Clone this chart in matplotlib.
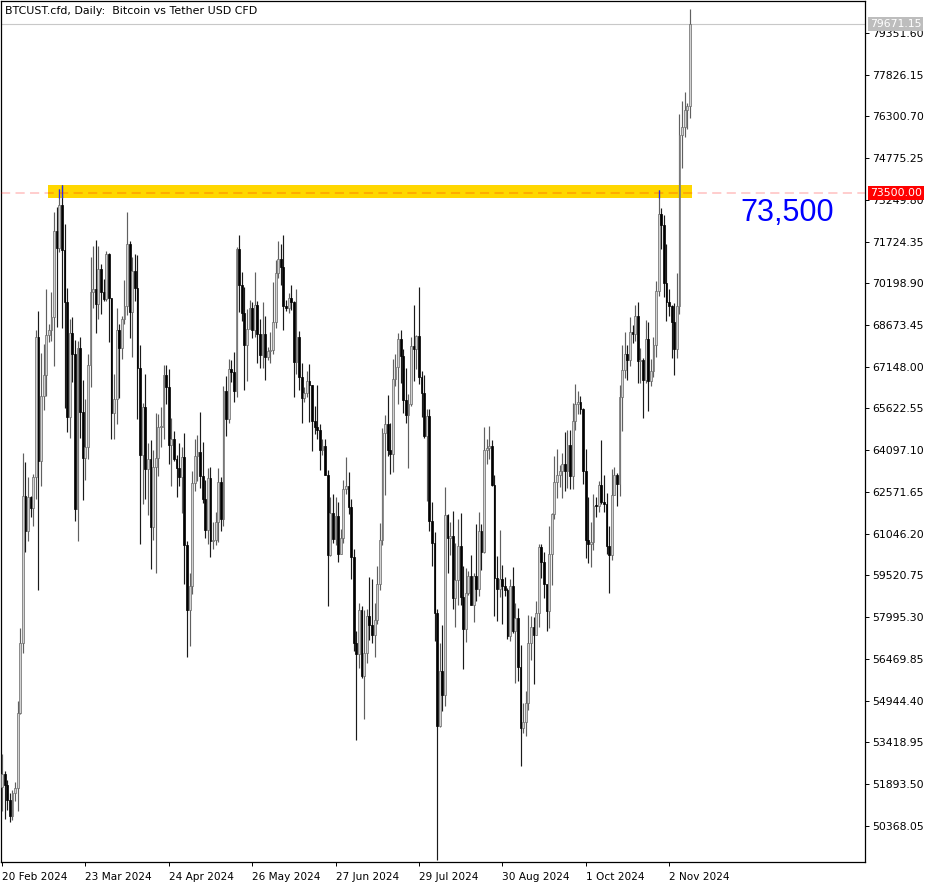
import matplotlib
matplotlib.use('Agg')
import matplotlib.pyplot as plt
import matplotlib.transforms as mtransforms
from matplotlib.collections import LineCollection, PolyCollection
from matplotlib.patches import Rectangle
import pandas as pd

# ---------------- data (BTCUST.cfd daily, 20 Feb 2024 .. 10 Nov 2024) ----------------
start_date = '2024-02-20'

open_ = [
    51780, 52260, 51840, 51300, 50730, 51570, 51730, 54480, 57040, 62430,
    61130, 62390, 61990, 63110, 68250, 63720, 66070, 66830, 68300, 68500, 68960, 72120, 71480, 73080, 71400,
    69500, 65300, 68390, 67610, 61940, 67840, 65500, 63800, 64220, 67210, 69880, 69990, 69450, 70740, 69890, 69640,
    71280, 69650, 65460, 65960, 68490, 67820, 68900, 69360, 71620, 69150, 70640, 70010, 67120, 63920, 65660,
    63420, 63790, 61280, 63470, 63820, 64940, 64940, 66840, 66410, 64280, 64500, 63770, 63460, 63120, 63840,
    60640, 58250, 59120, 62890, 63890, 64030, 63160, 62330, 61190, 63070, 60790, 60830, 61480, 62940, 61580,
    66270, 65230, 67050, 66940, 66280, 71450, 70140, 69120, 67930, 68530, 69290, 68510, 69390, 68340, 67590, 68350,
    67490, 67710, 67750, 68800, 70570, 71080, 70790, 69360, 69300, 69650, 69510, 67320, 68240, 66760, 66010,
    66190, 66640, 66490, 65150, 64960, 64830, 64090, 64240, 63180, 60280, 61800, 60860, 61680, 60320, 60900,
    62680, 62770, 62020, 60210, 57050, 56650, 58240, 55850, 56700, 58040, 57720, 57340, 57890, 59200, 60800,
    64720, 65040, 64090, 63970, 66710, 67150, 68170, 67550, 65930, 65370, 65780, 67900, 67810, 68260, 66780, 66190,
    64620, 65350, 61500, 60700, 58160, 54020, 56040, 55130, 61710, 60880, 60950, 58710, 59350, 60610, 58740,
    57560, 58870, 59480, 58440, 59490, 59010, 61160, 60380, 64090, 64180, 64250, 62830, 59420, 59030, 59370, 59120,
    58970, 57300, 59130, 57480, 57970, 56160, 53950, 54160, 54870, 57050, 57650, 57340, 58130, 60570, 60000,
    59190, 58210, 60310, 61760, 62950, 63200, 63350, 63580, 63330, 64300, 63140, 65180, 65770, 65870, 65600,
    63330, 60800, 60650, 60750, 62070, 62060, 62820, 62220, 62130, 60580, 60270, 62450, 63190, 62850, 66050,
    67040, 67610, 67400, 68420, 68360, 69000, 67370, 67380, 66680, 68160, 66640, 67010, 67940, 69910, 72720, 72340,
    70220, 69500, 69370, 68780, 67810, 69360, 75640, 75900, 76540, 76680,
]
high = [
    52990, 52370, 52040, 51550, 51680, 51950, 54940, 57580, 64000, 63680,
    63110, 62430, 63230, 68500, 69170, 67640, 67990, 69990, 68700, 69900, 72800, 73000, 73650, 73780, 72360,
    70040, 68900, 68950, 68120, 68100, 68240, 66650, 65970, 67620, 71150, 71560, 71770, 71550, 70920, 70360, 71370,
    71290, 69670, 66900, 69290, 68720, 69000, 70330, 72800, 71760, 71170, 71260, 71230, 67930, 65840, 66870,
    64360, 64480, 64120, 65450, 65420, 65690, 67230, 67200, 67080, 65290, 64800, 63920, 64360, 64230, 64730,
    60780, 59600, 63320, 64500, 64650, 65500, 64400, 62990, 63430, 63470, 61490, 61840, 63450, 63100, 66440,
    66800, 67450, 67400, 67700, 71520, 71980, 70630, 70080, 69250, 69580, 69500, 70600, 69560, 68900, 69500, 69000,
    67860, 68420, 70260, 71060, 71760, 71620, 71950, 69580, 69850, 70150, 69560, 69990, 68450, 67300, 66400,
    66980, 67240, 66490, 65730, 66480, 65070, 64520, 64490, 63370, 62400, 62480, 62370, 62200, 61200, 63000,
    63860, 63290, 62300, 60500, 57500, 58500, 58400, 58240, 58300, 59460, 59400, 58520, 59850, 61420, 64900,
    65380, 66130, 65110, 67450, 67600, 68370, 68480, 67800, 67100, 66170, 68230, 69400, 68300, 70080, 66980, 66830,
    65590, 65600, 62200, 61120, 58300, 57050, 57720, 62750, 61750, 61470, 61860, 60700, 61580, 61800, 59850,
    59800, 59690, 60280, 59620, 61400, 61830, 61400, 64950, 64520, 65000, 64480, 63200, 60230, 61170, 59900, 59450,
    59060, 59400, 59810, 58500, 58330, 56990, 54850, 55300, 58080, 58040, 57990, 58580, 60670, 60660, 60390,
    59210, 61320, 61790, 63870, 64130, 63560, 64000, 64750, 64830, 64820, 65840, 66500, 66260, 66080, 65630,
    64130, 62390, 61490, 62480, 62370, 62980, 64480, 63200, 62540, 61320, 63420, 63480, 63280, 66480, 67950,
    68420, 67940, 68970, 68690, 69400, 69500, 67830, 67470, 68840, 68780, 67450, 68220, 70270, 73620, 72960, 72700,
    71630, 70000, 69400, 69480, 70580, 76400, 76850, 77200, 76800, 80230,
]
low = [
    50900, 50630, 50930, 50520, 50580, 51280, 50900, 54440, 56690, 60360,
    60780, 61660, 61320, 62300, 59000, 62800, 65550, 66080, 68060, 68100, 67190, 68620, 71330, 68550, 65630,
    64780, 64530, 66600, 61500, 60760, 64530, 62260, 63000, 63790, 66390, 69280, 68380, 68900, 69080, 69560, 69560,
    68060, 64490, 64500, 65050, 66000, 67450, 68710, 69040, 68210, 67520, 69570, 65250, 60660, 62130, 62300,
    61710, 59770, 60830, 59600, 63170, 64230, 64500, 65800, 63590, 62790, 63700, 62400, 62800, 61800, 59190,
    56550, 56940, 58850, 62600, 62960, 62700, 62150, 60880, 60670, 60190, 60490, 60630, 60750, 61150, 61320,
    64600, 65110, 66600, 65860, 66060, 69160, 68830, 66300, 66620, 68520, 68190, 68230, 67290, 67120, 67100, 66670,
    67390, 67300, 67600, 68560, 70380, 70120, 68500, 69180, 69130, 69230, 66050, 66900, 66300, 65080, 65870,
    66060, 65120, 64060, 64690, 64510, 63380, 63940, 63180, 58400, 60230, 60700, 60640, 60000, 60300, 60700,
    62500, 61780, 59400, 56770, 53490, 56150, 55760, 54260, 56320, 57160, 57040, 56520, 57760, 59000, 60630,
    62450, 63880, 63230, 63300, 66460, 65780, 66570, 65440, 65100, 63430, 65730, 66640, 67060, 66500, 65300, 64530,
    62250, 61130, 59850, 57120, 49100, 53970, 54560, 54730, 59590, 60260, 58290, 57650, 58420, 58430, 56080,
    57100, 58790, 58440, 57800, 58600, 58780, 59720, 60340, 63580, 63770, 62800, 58030, 57860, 58740, 57750, 58750,
    57200, 57130, 57420, 55600, 55650, 52550, 53740, 53650, 54600, 56410, 55550, 57330, 57630, 59440, 58700,
    57500, 57610, 59170, 61580, 62350, 62760, 62360, 62600, 62730, 62690, 62670, 64830, 65420, 65430, 62860,
    60170, 59980, 59830, 60460, 61670, 61820, 62140, 61850, 60300, 58890, 60090, 62450, 62060, 62420, 64800,
    66750, 66660, 67160, 68010, 68100, 66570, 66570, 65260, 66560, 65520, 66440, 66760, 67520, 69730, 71440, 69690,
    68820, 69000, 67480, 66840, 67460, 69070, 74420, 75550, 75850, 76250,
]
close = [
    52260, 51840, 51300, 50730, 51570, 51730, 54480, 57040, 62430, 61130,
    62390, 61990, 63110, 68250, 63720, 66070, 66830, 68300, 68500, 68960, 72120, 71480, 73080, 71400, 69500,
    65300, 68390, 67610, 61940, 67840, 65500, 63800, 64220, 67210, 69880, 69990, 69450, 70740, 69890, 69640, 71280,
    69650, 65460, 65960, 68490, 67820, 68900, 69360, 71620, 69150, 70640, 70010, 67120, 63920, 65660, 63420,
    63790, 61280, 63470, 63820, 64940, 64940, 66840, 66410, 64280, 64500, 63770, 63460, 63120, 63840, 60640,
    58250, 59120, 62890, 63890, 64030, 63160, 62330, 61190, 63070, 60790, 60830, 61480, 62940, 61580, 66270,
    65230, 67050, 66940, 66280, 71450, 70140, 69120, 67930, 68530, 69290, 68510, 69390, 68340, 67590, 68350, 67490,
    67710, 67750, 68800, 70570, 71080, 70790, 69360, 69300, 69650, 69510, 67320, 68240, 66760, 66010, 66190,
    66640, 66490, 65150, 64960, 64830, 64090, 64240, 63180, 60280, 61800, 60860, 61680, 60320, 60900, 62680,
    62770, 62020, 60210, 57050, 56650, 58240, 55850, 56700, 58040, 57720, 57340, 57890, 59200, 60800, 64720,
    65040, 64090, 63970, 66710, 67150, 68170, 67550, 65930, 65370, 65780, 67900, 67810, 68260, 66780, 66190, 64620,
    65350, 61500, 60700, 58160, 54020, 56040, 55130, 61710, 60880, 60950, 58710, 59350, 60610, 58740, 57560,
    58870, 59480, 58440, 59490, 59010, 61160, 60380, 64090, 64180, 64250, 62830, 59420, 59030, 59370, 59120, 58970,
    57300, 59130, 57480, 57970, 56160, 53950, 54160, 54870, 57050, 57650, 57340, 58130, 60570, 60000, 59190,
    58210, 60310, 61760, 62950, 63200, 63350, 63580, 63330, 64300, 63140, 65180, 65770, 65870, 65600, 63330,
    60800, 60650, 60750, 62070, 62060, 62820, 62220, 62130, 60580, 60270, 62450, 63190, 62850, 66050, 67040,
    67610, 67400, 68420, 68360, 69000, 67370, 67380, 66680, 68160, 66640, 67010, 67940, 69910, 72720, 72340, 70220,
    69500, 69370, 68780, 67810, 69360, 75640, 75900, 76540, 76680, 79671.15,
]

title_text = 'BTCUST.cfd, Daily:  Bitcoin vs Tether USD CFD'
level_price = 73500.00
level_label = '73,500'
last_price = 79671.15
zone_low, zone_high = 73330, 73795
zone_start, zone_end = 17.6, 264.8          # in bar units
y_tick_start, y_tick_step, y_tick_count = 50368.05, 1525.45, 20
x_tick_every = 32
y_min, y_max = 49040, 80522
x_min, x_max = -0.38, 331.2

# ---------------- figure ----------------
W, H = 936, 888
fig = plt.figure(figsize=(W / 100, H / 100), dpi=100)
ax = fig.add_axes([1 / W, (H - 862) / H, 864 / W, 861 / H])
ax.set_xlim(x_min, x_max)
ax.set_ylim(y_min, y_max)

n = len(close)
dates = pd.date_range(start_date, periods=n, freq='D')

# yellow zone
ax.add_patch(Rectangle((zone_start, zone_low), zone_end - zone_start, zone_high - zone_low,
                       facecolor='#FFD700', edgecolor='none', zorder=1))

# candles
bw = 0.7
wick_segs, wick_cols, bodies, face, edge = [], [], [], [], []
blue_segs = []
for i in range(n):
    o, h, l, c = open_[i], high[i], low[i], close[i]
    bull = c >= o
    wick_segs.append([(i, l), (i, h)])
    wick_cols.append('#606060' if bull else '#1a1a1a')
    lo_b, hi_b = min(o, c), max(o, c)
    if hi_b - lo_b < 25:
        hi_b = lo_b + 25
    bodies.append([(i - bw / 2, lo_b), (i + bw / 2, lo_b), (i + bw / 2, hi_b), (i - bw / 2, hi_b)])
    face.append('#d2d2d2' if bull else '#000000')
    edge.append('#6a6a6a' if bull else '#000000')
    if max(o, c) < zone_low < h and zone_start <= i <= zone_end:
        blue_segs.append([(i, zone_low), (i, min(h, zone_high))])

ax.add_collection(LineCollection(wick_segs, colors=wick_cols, linewidths=0.85, zorder=3))
ax.add_collection(PolyCollection(bodies, facecolors=face, edgecolors=edge, linewidths=0.5, zorder=4))
ax.add_collection(LineCollection(blue_segs, colors='#1f2cff', linewidths=0.9, zorder=5))

# lines
ax.axhline(last_price, color='#c8c8c8', lw=0.8, zorder=2)
ax.axhline(level_price, color=(1, 0, 0, 0.25), lw=1.1, dashes=(6, 3.5), zorder=6)

# right-side price labels
btrans = mtransforms.blended_transform_factory(ax.transAxes, ax.transData)
ax.text(1 + 5 / 864, last_price, f'{last_price:.2f}', transform=btrans, ha='left', va='center',
        color='white', fontsize=7.8, zorder=10, clip_on=False,
        bbox=dict(boxstyle='square,pad=0.18', fc='#bdbdbd', ec='none'))
ax.text(1 + 5 / 864, level_price, f'{level_price:.2f}', transform=btrans, ha='left', va='center',
        color='white', fontsize=7.8, zorder=10, clip_on=False,
        bbox=dict(boxstyle='square,pad=0.18', fc='#ff0000', ec='none'))

# big level label
ax.text((787 - 1) / 864, 72770, level_label, transform=btrans, ha='center', va='center',
        color='#0000ff', fontsize=22, family='Liberation Sans', zorder=8)

# title
fig.text(5 / W, 1 - 10.5 / H, title_text, ha='left', va='center', fontsize=7.9, color='black')

# axes styling
for s in ax.spines.values():
    s.set_color('black')
    s.set_linewidth(0.9)
ax.yaxis.tick_right()
yt = [y_tick_start + k * y_tick_step for k in range(y_tick_count)]
ax.set_yticks(yt)
ax.set_yticklabels([f'{v:.2f}' for v in yt])
xt = list(range(0, n, x_tick_every))
ax.set_xticks(xt)
ax.set_xticklabels([f'{d.day} {d.strftime("%b %Y")}' for d in dates[xt]])
for lab in ax.get_xticklabels():
    lab.set_ha('left')
ax.tick_params(axis='y', direction='out', length=3, width=0.7, labelsize=7.8, pad=2, colors='black')
ax.tick_params(axis='x', direction='out', length=3, width=0.7, labelsize=7.6, pad=4, colors='black')

fig.savefig('out.png', dpi=100, facecolor='white')
